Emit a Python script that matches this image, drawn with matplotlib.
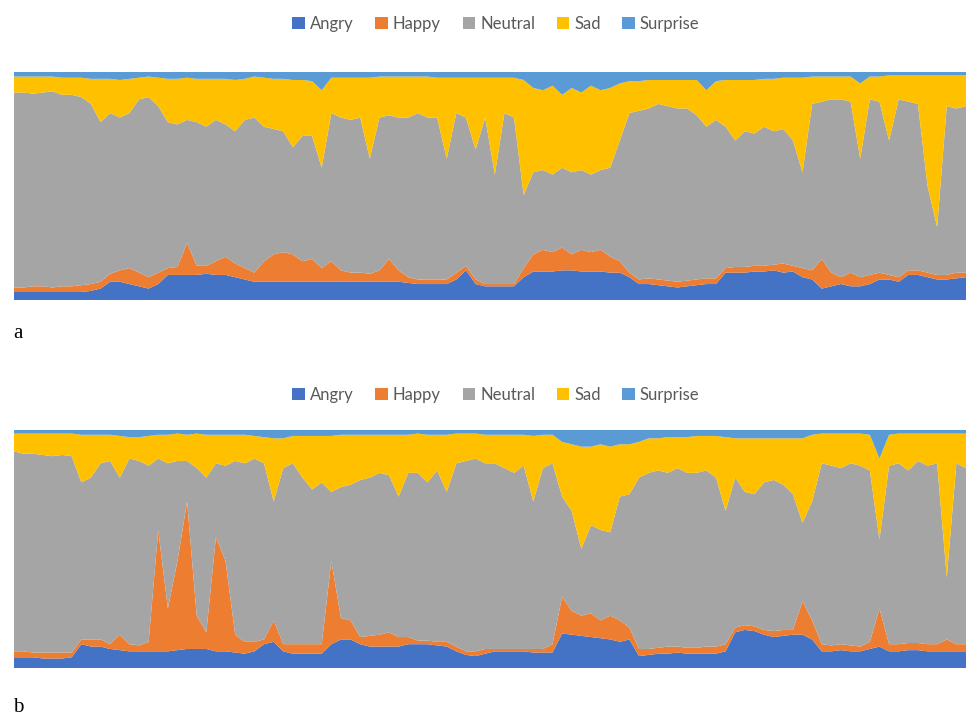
import matplotlib
matplotlib.use("Agg")
import matplotlib.pyplot as plt
from matplotlib.patches import Patch
import numpy as np

series_names = ["Angry", "Happy", "Neutral", "Sad", "Surprise"]
colors = ["#4472C4", "#ED7D31", "#A5A5A5", "#FFC000", "#5B9BD5"]

# ---- Panel a (percent per frame sample) ----
a_angry = [3.5,3.5,3.5,3.5,3.5,3.5,3.5,3.5,4,5, 8,8,7,6,5,7,11,11,11,11,
           11.5,11,11,10,9,8,8,8,8,8, 8,8,8,8,8,8,8,8,8,8,
           8,7.5,7,7,7,7,9,13,7,6, 6,6,6,10,12.5,12.5,12.5,13,13,12.5,
           12.5,12.5,12,12,10,7,7,6.5,6,5.5, 6,6.5,7,7,12,12,12,12.5,12.5,13,
           12,12.5,10,9,5,6,7,6,6,7, 9,9,8,11,11,10,9,9,9.5,10]
a_happy = [2,2,2.5,2.5,2,2.5,2.5,3,3,3, 3.5,5,7,6,5,5,3,3.5,14,4,
           3.5,6,8,6,5,4,9,12,13,12, 9,10,6,9,5,4,4,3.5,5,10,
           5,2.5,2,2,2,2,3,2,2,1, 1,1,1,4,7.5,9.5,8.5,10,7,9.5,
           8.5,9.5,7,5,2,2,2.5,2.5,2.5,2.5, 2.5,2.5,2.5,2.5,2,2.5,2.5,2.5,2.5,2.5,
           4,2.5,4,4,13,6,3,6,4,4, 3,2,2,2,2,2,2,2,2.5,2]
a_neutral = [85.5,85.5,84.5,85,86,84,84,82.5,79,70, 70.5,67,68,76,79,73,64,62.5,54,63,
             61,62,58,58,65,68,59,55,53,47, 55,54,44,65,67,67,68,50.5,67,63,
             67,70,73,71,71,53,70,65,57,73, 48,75,73,32,36,35,34,35,36,35,
             34,35,39,53,70,74,74.5,77,76.5,76, 75.5,72,66.5,69.5,62,55.5,59.5,58,61,58.5,
             59,55,42,73,69,76,78,75,52,77, 75,59,78,74,73,38,21,74,72,73]
a_sad = [7,7,7.5,7,6.5,7.5,7.5,8.5,11,19, 15,16.5,15,9.5,9,12.5,19,20,18.5,19,
         21,18,20,22.5,18,18,21.5,22,23,29.5, 24.5,24,34,15.5,17.5,18.5,17.5,35.5,18,17,
         18,18,16,18,17.5,35.5,15.5,17.5,31.5,17.5, 42.5,15.5,17.5,50.5,37,35,39,32,37,34,
         39,35,35,25,14,13,12.5,10.5,11.5,12.5, 12.5,15.5,16,17,20.5,26.5,22.5,23.5,21,23,
         22.5,27.5,41.5,12,11,10,10,11,33,10, 11,28.5,10.5,11.5,12.5,48.5,66.5,13.5,14.5,13.5]
a_surprise = [2,2,2,2,2,2.5,2.5,2.5,3,3, 3,3.5,3,2.5,2,2.5,3,3,2.5,3,
              3,3,3,3.5,3,2,2.5,3,3,3.5, 3.5,4,8,2.5,2.5,2.5,2.5,2.5,2,2,
              2,2,2,2,2.5,2.5,2.5,2.5,2.5,2.5, 2.5,2.5,2.5,3.5,7,8,6,10,7,9,
              6,8,7,5,4,4,3.5,3.5,3.5,3.5, 3.5,3.5,8,4,3.5,3.5,3.5,3.5,3,3,
              2.5,2.5,2.5,2,2,2,2,2,5,2, 2,1.5,1.5,1.5,1.5,1.5,1.5,1.5,1.5,1.5]

# ---- Panel b ----
b_angry = [4.5,4.5,4.5,4,4,4,4.5,10,9,9, 8,7.5,7,7,7,7,7,7.5,8,8,
           8,7,7,6.5,6,7,10,11,7,6, 6,6,6,10,12,12,10,9,9,9,
           9,10,10,10,9.5,9,7,5.5,5,6, 7,7,7,7,6.5,6.5,6.5,14.5,14,13.5,
           13,12.5,12,11,12,5,5.5,6,6,6.5, 6,6,6,6,7,15,16,15.5,14,13,
           13.5,14,14,12,7,7,7.5,7,7,8, 9,7,7,7.5,7.5,7,7,7,7,7]
b_happy = [2.5,2.5,2,2.5,2.5,2.5,2,2,3,3, 2,6.5,3,2.5,4,51,18,37.5,62,14,
           7,48,38,7.5,5,4,2,9,3,4, 4,4,4,35,9,8,3,4.5,5,6,
           4,3,1.5,1.5,1.5,2,2,1.5,2,2, 1,1,1,1,1.5,1.5,3.5,15.5,10,8.5,
           10,7.5,10,9,5,3,2.5,2.5,3,2.5, 2.5,2.5,3,3,3,2,2,2,2,2.5,
           2.5,2,14,8,3,2.5,2.5,2.5,2,3, 16,3,3,3,3,3,3,5,3,3]
b_neutral = [84,83,83.5,83,82.5,83,82.5,66,68,74, 77,66,78,77.5,74,30,61,42,17,62,
             65,31,40,73,75,77,74,50,74,76, 70,65,68,29,55,57,66,66.5,68,66,
             59,69,70.5,66.5,72,63,77,80,81,78, 78,76,74,77,62,76,76,42,42,28,
             37,38,35,52,56,72,74,74.5,73,75, 73.5,73.5,74,71,56,63,56,55.5,62,63.5,
             61,57,33,50,76,75.5,74,76.5,76,72, 29,75,76,72.5,76.5,75,76,26,76,74]
b_sad = [7.5,8.5,8.5,9,9.5,9,9.5,20,18,12, 11,17.5,9,10,12.5,10,12,11.5,11,14.5,
         18,12,13,11,12,9.5,11,26.5,12.5,11.5, 17.5,22.5,19.5,23.5,22,21,19,18,16,17,
         26,16,16.5,20,15,24,12.5,11.5,10.5,12, 12,14,16,13,27.5,14,12,23,28,43,
         33,36,36,22,21,15,14.5,13.5,15,13, 15,15.5,14.5,17.5,31,16.5,22.5,23.5,18.5,17.5,
         19.5,23.5,35.5,28,12.5,13.5,14.5,12.5,13.5,15, 34,13,12.5,15.5,11.5,13.5,12.5,60.5,12.5,14.5]
b_surprise = [1.5,1.5,1.5,1.5,1.5,1.5,1.5,2,2,2, 2,2.5,3,3,2.5,2,2,1.5,2,1.5,
              2,2,2,2,2,2.5,3,3.5,3.5,2.5, 2.5,2.5,2.5,2.5,2,2,2,2,2,2,
              2,2,1.5,2,2,2,1.5,1.5,1.5,2, 2,2,2,2,2.5,2,2,5,6,7,
              7,6,7,6,6,5,3.5,3.5,3,3, 3,2.5,2.5,2.5,3,3.5,3.5,3.5,3.5,3.5,
              3.5,3.5,3.5,2,1.5,1.5,1.5,1.5,1.5,2, 12,2,1.5,1.5,1.5,1.5,1.5,1.5,1.5,1.5]

panels = [
    ("a", [a_angry, a_happy, a_neutral, a_sad, a_surprise]),
    ("b", [b_angry, b_happy, b_neutral, b_sad, b_surprise]),
]

W, H = 966, 715
fig = plt.figure(figsize=(W / 100, H / 100), dpi=100)

# axes rectangles in pixel units: (left, top, right, bottom)
rects = [(14, 72, 966, 300), (14, 430, 966, 668)]
legend_y = [24, 395]
label_pos = [(13, 333), (13, 707)]

for (label, data), (l, t, r, btm), ly, (lx, lyy) in zip(panels, rects, legend_y, label_pos):
    ax = fig.add_axes([l / W, 1 - btm / H, (r - l) / W, (btm - t) / H])
    arr = np.array(data, dtype=float)
    arr = arr / arr.sum(axis=0) * 100.0
    x = np.arange(arr.shape[1])
    ax.stackplot(x, arr, colors=colors, linewidth=0, antialiased=True)
    ax.set_xlim(x[0], x[-1])
    ax.set_ylim(0, 100)
    ax.set_axis_off()

    handles = [Patch(facecolor=c, edgecolor="none", label=n) for c, n in zip(colors, series_names)]
    fig.legend(handles=handles, loc="center", bbox_to_anchor=(496 / W, 1 - ly / H),
               ncol=5, frameon=False, handlelength=0.75, handleheight=0.75,
               handletextpad=0.3, columnspacing=1.3, labelcolor="#595959",
               prop={"family": "Lato", "size": 12})
    fig.text(lx / W, 1 - lyy / H, label, family="Liberation Serif", fontsize=15,
             ha="left", va="center", color="black")

fig.savefig("out.png", dpi=100)
